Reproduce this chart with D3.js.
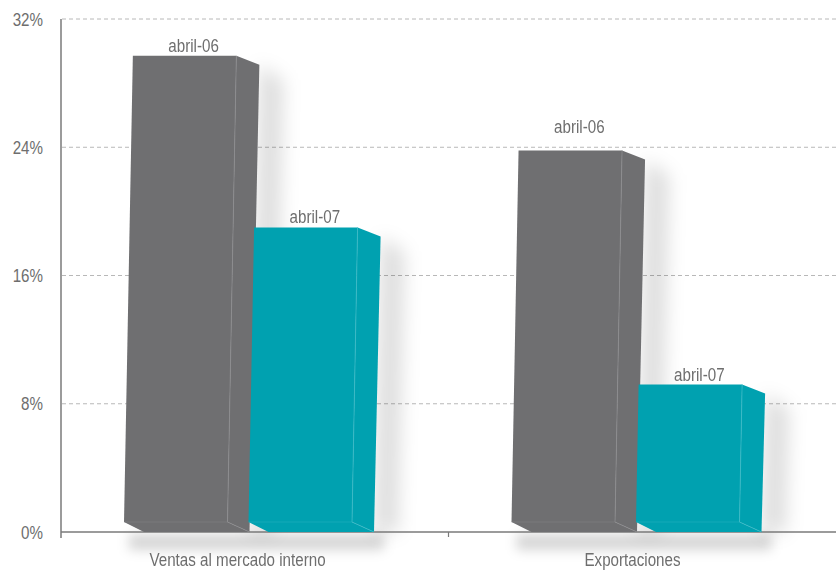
<!DOCTYPE html>
<html>
<head>
<meta charset="utf-8">
<script src="https://cdn.jsdelivr.net/npm/d3@7"></script>
<style>
  html, body { margin: 0; padding: 0; background: #fff; }
  svg { display: block; }
  text { font-family: "Liberation Sans", Arial, sans-serif; fill: #6e6e6e; }
</style>
</head>
<body>
<svg id="chart" width="836" height="570"></svg>
<script>
// Growth rates by market, April 2006 vs April 2007
const categories = ["Ventas al mercado interno", "Exportaciones"];
const seriesNames = ["abril-06", "abril-07"];
const abril06 = [29.7, 23.8];
const abril07 = [19.0, 9.2];
const yTicks = [0, 8, 16, 24, 32];
const seriesColors = ["#6f6f71", "#00a1b0"];
const edgeColors = ["#8c8c8e", "#3bbac6"];

const W = 836, H = 570;
const svg = d3.select("#chart");

const y = d3.scaleLinear().domain([0, 32]).range([532, 19]);
const x0 = d3.scaleBand().domain(categories).range([61, W]);
const x1 = d3.scaleBand().domain(seriesNames).range([63, 312]);
// category captions spread slightly wider than the floor (perspective)
const xCaption = d3.scalePoint().domain(categories).range([40, 830]).padding(0.5);

// box geometry
const frontW = 103.5;   // front face width
const lift = 10;        // front face bottom sits above the floor line
const depthTop = [23, 9];
const depthBot = [22, 10];
const lean = 0.019;     // slight perspective lean of tall faces

// condensed type: regular face squeezed horizontally
const squeeze = 0.82;
const fs = 18.5;
function label(sel, x, yy, anchor, str) {
  return sel.append("text")
    .attr("transform", `translate(${x},${yy}) scale(${squeeze},1)`)
    .attr("text-anchor", anchor).attr("font-size", fs)
    .text(str);
}

const defs = svg.append("defs");
defs.append("filter").attr("id", "soft").attr("x", "-50%").attr("y", "-50%").attr("width", "200%").attr("height", "200%")
  .append("feGaussianBlur").attr("stdDeviation", 9);
defs.append("filter").attr("id", "haze").attr("x", "-50%").attr("y", "-100%").attr("width", "200%").attr("height", "300%")
  .append("feGaussianBlur").attr("stdDeviation", 6);

const bars = [];
categories.forEach((c, ci) => {
  [abril06, abril07].forEach((vals, si) => {
    const v = vals[ci];
    const bl = x0(c) + x1(seriesNames[si]);
    const br = bl + frontW;
    const yb = y(0) - lift;
    const yt = y(v);
    const sh = lean * (yb - yt);
    bars.push({ cat: c, ci, si, v, bl, br, tl: bl + sh, tr: br + sh, yt, yb });
  });
});

// gridlines
const gridTicks = yTicks.filter(t => t > 0);
svg.append("g").selectAll("line").data(gridTicks).join("line")
  .attr("x1", 62).attr("x2", W)
  .attr("y1", d => y(d)).attr("y2", d => y(d))
  .attr("stroke", "#b8b8b8").attr("stroke-width", 1).attr("stroke-dasharray", "4,3");

// floor haze under each group
const hazeG = svg.append("g").attr("filter", "url(#haze)");
categories.forEach(c => {
  const gb = bars.filter(b => b.cat === c);
  const left = d3.min(gb, b => b.bl) + 5;
  const right = d3.max(gb, b => b.br) + depthBot[0] + 10;
  hazeG.append("rect").attr("x", left).attr("y", y(0) + 2)
    .attr("width", right - left).attr("height", 16)
    .attr("fill", "#000").attr("opacity", 0.16);
});

// cast shadows to the right of each box
const shadowG = svg.append("g").attr("filter", "url(#soft)");
bars.forEach(b => {
  const pts = [
    [b.tr + depthTop[0], b.yt + depthTop[1]],
    [b.tr + depthTop[0] + 24, b.yt + depthTop[1] + 16],
    [b.br + depthBot[0] + 24, y(0)],
    [b.br + depthBot[0], y(0)]
  ];
  shadowG.append("polygon").attr("points", pts.join(" "))
    .attr("fill", "#000").attr("opacity", 0.13);
});

// axes
const axisColor = "#7a7a7a";
svg.append("line").attr("x1", 61).attr("x2", W).attr("y1", y(0)).attr("y2", y(0))
  .attr("stroke", axisColor).attr("stroke-width", 1.5);
svg.append("line").attr("x1", 61).attr("x2", 61).attr("y1", y(32)).attr("y2", y(0) + 6)
  .attr("stroke", axisColor).attr("stroke-width", 1.5);
svg.append("line").attr("x1", x0(categories[1])).attr("x2", x0(categories[1]))
  .attr("y1", y(0)).attr("y2", y(0) + 5)
  .attr("stroke", axisColor).attr("stroke-width", 1.2);

// 3D boxes
const boxG = svg.append("g");
bars.forEach(b => {
  const g = boxG.append("g");
  const col = seriesColors[b.si], edge = edgeColors[b.si];
  const front = [[b.tl, b.yt], [b.tr, b.yt], [b.br, b.yb], [b.bl, b.yb]];
  const side = [[b.tr, b.yt], [b.tr + depthTop[0], b.yt + depthTop[1]],
                [b.br + depthBot[0], b.yb + depthBot[1]], [b.br, b.yb]];
  const bottom = [[b.bl, b.yb], [b.br, b.yb], [b.br + depthBot[0], b.yb + depthBot[1]],
                  [b.bl + 20, b.yb + depthBot[1]]];
  g.append("polygon").attr("points", bottom.join(" ")).attr("fill", col);
  g.append("polygon").attr("points", side.join(" ")).attr("fill", col);
  g.append("polygon").attr("points", front.join(" ")).attr("fill", col);
  g.append("line").attr("x1", b.tr).attr("y1", b.yt).attr("x2", b.br).attr("y2", b.yb)
    .attr("stroke", edge).attr("stroke-width", 0.8);
  g.append("line").attr("x1", b.bl).attr("y1", b.yb).attr("x2", b.br).attr("y2", b.yb)
    .attr("stroke", edge).attr("stroke-width", 0.6).attr("opacity", 0.6);
  g.append("line").attr("x1", b.br).attr("y1", b.yb).attr("x2", b.br + depthBot[0]).attr("y2", b.yb + depthBot[1])
    .attr("stroke", edge).attr("stroke-width", 0.8);
});

// series labels above boxes, nudged above a gridline they would sit on
const labelG = svg.append("g");
bars.forEach(b => {
  let base = b.yt - 4;
  gridTicks.forEach(t => {
    const gy = y(t);
    if (gy > base - fs * 0.75 && gy < base + 3) base = gy - 14;
  });
  label(labelG, (b.tl + b.tr) / 2 + 9, base, "middle", seriesNames[b.si]);
});

// y tick labels
const yLab = svg.append("g");
yTicks.forEach(t => label(yLab, 43, y(t) + 6.5, "end", t + "%"));

// category labels
const xLab = svg.append("g");
categories.forEach(c => label(xLab, xCaption(c), 566, "middle", c));
</script>
</body>
</html>
